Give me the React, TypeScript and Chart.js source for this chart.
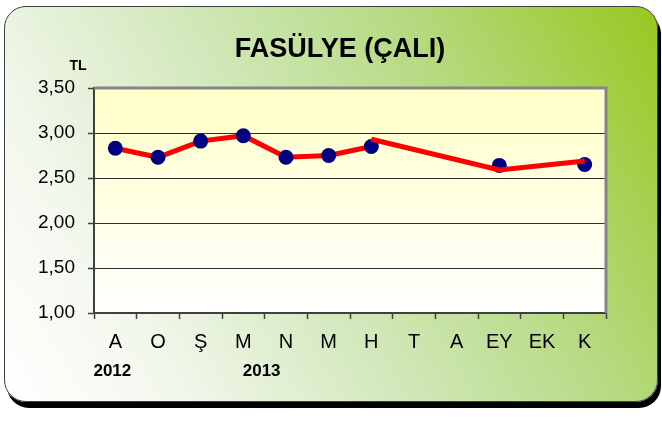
import React, { useEffect, useRef } from "react";
import { Chart, registerables } from "chart.js";

Chart.register(...registerables);

const categories = ["A", "O", "Ş", "M", "N", "M", "H", "T", "A", "EY", "EK", "K"];
const markerValues = [2.83, 2.73, 2.91, 2.97, 2.73, 2.75, 2.85, null, null, 2.64, null, 2.65];
const lineFirst = [2.83, 2.73, 2.91, 2.97, 2.73, 2.75, 2.85, null, null, null, null, null];
const lineSecond = [null, null, null, null, null, null, 2.93, null, null, 2.59, null, 2.69];
const yearLabels = [
  { text: "2012", at: 0 },
  { text: "2013", at: 3.5 },
];
const titleText = "FASÜLYE (ÇALI)";
const unitText = "TL";

const FONT = '"Liberation Sans", Arial, sans-serif';

const decor = {
  id: "decor",
  beforeDraw(chart: any) {
    const { ctx, chartArea } = chart;
    const { left, top, right, bottom } = chartArea;
    ctx.save();
    const g = ctx.createLinearGradient(0, top, 0, bottom);
    g.addColorStop(0, "#ffffc8");
    g.addColorStop(1, "#ffffff");
    ctx.fillStyle = g;
    ctx.fillRect(left, top, right - left, bottom - top);
    ctx.restore();
  },
  beforeDatasetsDraw(chart: any) {
    const { ctx, chartArea } = chart;
    const { left, top, right, bottom } = chartArea;
    ctx.save();
    ctx.strokeStyle = "#858585";
    ctx.lineWidth = 3;
    ctx.beginPath();
    ctx.moveTo(left, top);
    ctx.lineTo(right, top);
    ctx.lineTo(right, bottom);
    ctx.stroke();
    ctx.restore();
  },
  afterDraw(chart: any) {
    const { ctx } = chart;
    const xs = chart.scales.x;
    ctx.save();
    ctx.fillStyle = "#000";
    ctx.textAlign = "center";
    ctx.textBaseline = "alphabetic";
    ctx.font = `bold 27px ${FONT}`;
    ctx.fillText(titleText, 340, 57);
    ctx.font = `bold 14px ${FONT}`;
    ctx.fillText(unitText, 78, 70);
    ctx.font = `bold 17px ${FONT}`;
    yearLabels.forEach((y) => {
      const px = xs.getPixelForValue(y.at);
      ctx.fillText(y.text, px - 3, 376);
    });
    ctx.restore();
  },
};

export default function App() {
  const ref = useRef<HTMLCanvasElement>(null);
  useEffect(() => {
    if (!ref.current) return;
    const chart = new Chart(ref.current, {
      type: "line",
      data: {
        labels: categories,
        datasets: [
          {
            label: "line2",
            data: lineSecond,
            borderColor: "#ff0000",
            borderWidth: 5,
            pointRadius: 0,
            spanGaps: true,
            order: 0,
          },
          {
            label: "markers",
            data: markerValues,
            showLine: false,
            pointRadius: 7.5,
            pointBackgroundColor: "#000080",
            pointBorderColor: "#000080",
            pointBorderWidth: 0,
            order: 1,
          },
          {
            label: "line1",
            data: lineFirst,
            borderColor: "#ff0000",
            borderWidth: 5,
            pointRadius: 0,
            spanGaps: false,
            order: 2,
          },
        ],
      },
      options: {
        animation: false,
        responsive: false,
        maintainAspectRatio: false,
        layout: { padding: { left: 0, top: 88, right: 56, bottom: 0 } },
        plugins: {
          legend: { display: false },
          tooltip: { enabled: false },
          title: { display: false },
        },
        scales: {
          x: {
            offset: true,
            grid: {
              offset: true,
              drawOnChartArea: false,
              drawTicks: true,
              tickLength: 6,
              tickColor: "#404040",
              tickWidth: 1.5,
            },
            border: { color: "#404040", width: 2 },
            ticks: {
              color: "#000",
              font: { family: FONT, size: 20 },
              padding: 11,
              maxRotation: 0,
              autoSkip: false,
            },
            afterFit: (s: any) => {
              s.height = 110;
            },
          },
          y: {
            min: 1,
            max: 3.5,
            ticks: {
              stepSize: 0.5,
              color: "#000",
              font: { family: FONT, size: 19 },
              padding: 13,
              callback: (v: any) => Number(v).toFixed(2).replace(".", ","),
            },
            grid: {
              color: (c: any) =>
                c.tick && (c.tick.value === 1 || c.tick.value === 3.5) ? "rgba(0,0,0,0)" : "#303030",
              lineWidth: 1,
              borderDash: [1, 1],
              tickLength: 6,
              tickColor: "#404040",
              tickWidth: 1.5,
              tickBorderDash: [],
            },
            border: { color: "#404040", width: 2 },
            afterFit: (s: any) => {
              s.width = 94;
            },
          },
        },
      },
      plugins: [decor],
    });
    return () => chart.destroy();
  }, []);

  return (
    <div
      style={{
        position: "fixed",
        left: 0,
        top: 0,
        width: 662,
        height: 423,
        background: "#ffffff",
        overflow: "hidden",
      }}
    >
      <div
        style={{
          position: "absolute",
          left: 4,
          top: 6,
          width: 652,
          height: 394,
          border: "1px solid #404040",
          borderRadius: 22,
          boxShadow: "3px 6px 0 #000",
          background:
            "linear-gradient(60deg, #ffffff 0%, #f2f7ec 20%, #d2e8bb 45%, #b6da82 70%, #97c820 100%)",
        }}
      />
      <canvas
        ref={ref}
        width={662}
        height={423}
        style={{ position: "absolute", left: 0, top: 0, width: 662, height: 423 }}
      />
    </div>
  );
}
